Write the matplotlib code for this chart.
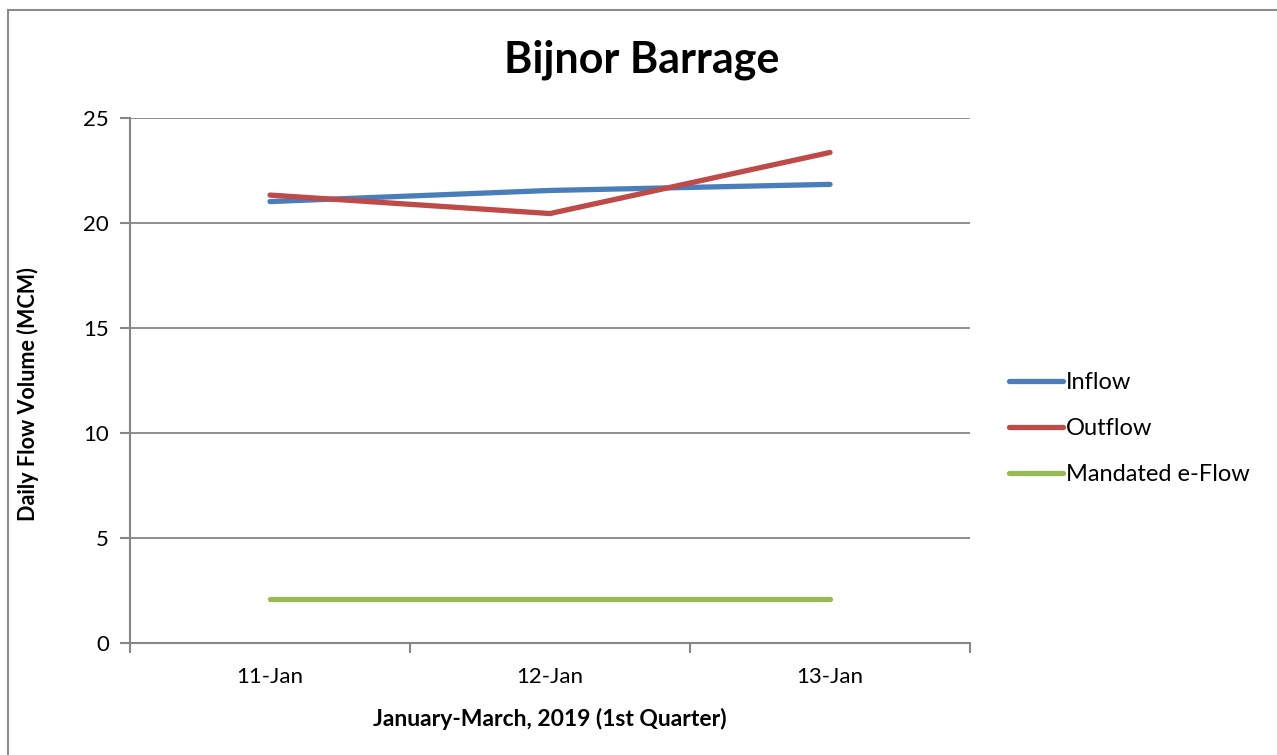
import matplotlib.pyplot as plt
from matplotlib.lines import Line2D

plt.rcParams['font.family'] = ['Lato', 'DejaVu Sans']

dates = ['11-Jan', '12-Jan', '13-Jan']
inflow = [21.02, 21.55, 21.84]
outflow = [21.33, 20.45, 23.36]
eflow = [2.1, 2.1, 2.1]

W, H = 1277, 755
fig = plt.figure(figsize=(W / 100, H / 100), dpi=100)
ax = fig.add_axes([130 / W, (H - 643) / H, 840 / W, 525 / H])

gray = '#868686'
x = range(len(dates))
ax.plot(x, inflow, color='#4A7EBB', lw=3.8, solid_capstyle='round', label='Inflow')
ax.plot(x, outflow, color='#BE4B48', lw=3.8, solid_capstyle='round', label='Outflow')
ax.plot(x, eflow, color='#98B954', lw=3.8, solid_capstyle='round', label='Mandated e-Flow')

ax.set_xlim(-0.5, 2.5)
ax.set_ylim(0, 25)
ax.set_yticks(range(0, 26, 5))
ax.set_xticks([-0.5, 0.5, 1.5, 2.5])
ax.set_xticklabels([])
ax.set_xticks(list(x), minor=True)
ax.set_xticklabels(dates, minor=True)
ax.tick_params(axis='x', which='minor', length=0, pad=17, labelsize=16)
ax.tick_params(axis='x', which='major', length=7, width=1.5, color=gray, direction='out')
ax.tick_params(axis='y', length=7, width=1.5, color=gray, labelsize=16, pad=8)
ax.grid(axis='y', color=gray, lw=1.3)
ax.set_axisbelow(True)
for s in ['top', 'right']:
    ax.spines[s].set_visible(False)
for s in ['left', 'bottom']:
    ax.spines[s].set_color(gray)
    ax.spines[s].set_linewidth(1.5)

ax.set_xlabel('January-March, 2019 (1st Quarter)', fontsize=16.5, fontweight='bold', labelpad=15)
ax.set_ylabel('Daily Flow Volume (MCM)', fontsize=15.5, fontweight='bold')
ax.yaxis.set_label_coords(-0.108, 0.474)
fig.text(642 / W, 1 - 60 / H, 'Bijnor Barrage', ha='center', va='center',
         fontsize=31, fontweight='bold')

leg = fig.legend(loc='upper left', bbox_to_anchor=(997 / W, 1 - 360 / H),
                 frameon=False, fontsize=17, handlelength=2.3, handletextpad=0.13,
                 labelspacing=1.07, borderpad=0)

# outer chart border
fig.add_artist(Line2D([7.5 / W, 7.5 / W], [0, 1 - 9.5 / H], transform=fig.transFigure,
                      color='#8c8c8c', lw=1.5))
fig.add_artist(Line2D([7.5 / W, 1], [1 - 9.5 / H, 1 - 9.5 / H], transform=fig.transFigure,
                      color='#8c8c8c', lw=1.5))

plt.savefig('out.png', dpi=100)
